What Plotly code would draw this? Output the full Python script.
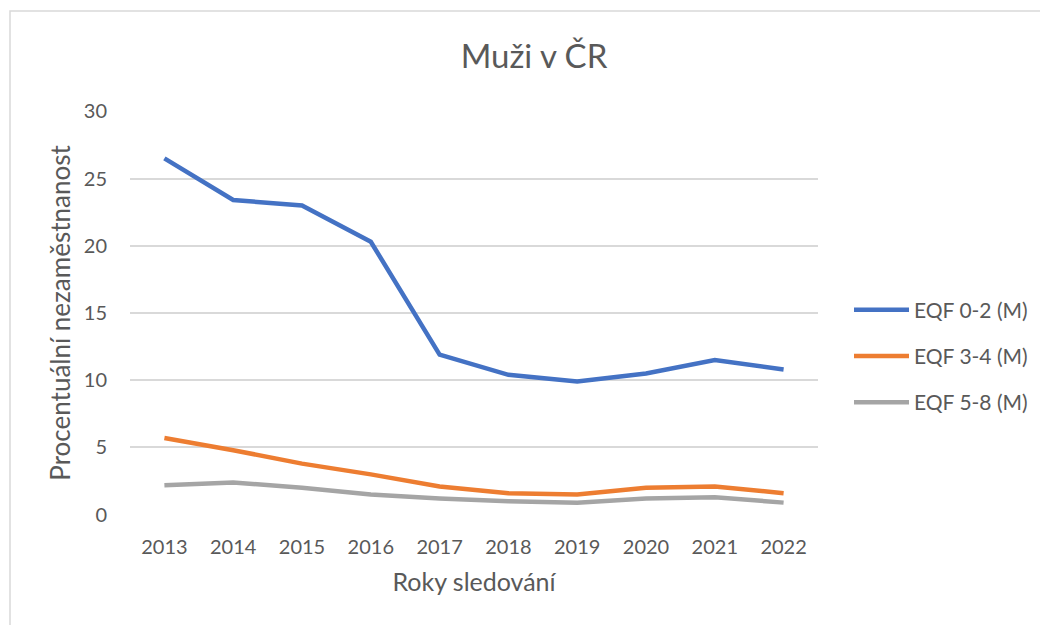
import plotly.graph_objects as go

years = ["2013", "2014", "2015", "2016", "2017", "2018", "2019", "2020", "2021", "2022"]
eqf_0_2 = [26.5, 23.4, 23.0, 20.3, 11.9, 10.4, 9.9, 10.5, 11.5, 10.8]
eqf_3_4 = [5.7, 4.8, 3.8, 3.0, 2.1, 1.6, 1.5, 2.0, 2.1, 1.6]
eqf_5_8 = [2.2, 2.4, 2.0, 1.5, 1.2, 1.0, 0.9, 1.2, 1.3, 0.9]

series_names = ["EQF 0-2 (M)", "EQF 3-4 (M)", "EQF 5-8 (M)"]
colors = ["#4472C4", "#ED7D31", "#A5A5A5"]

# page body has an 8px margin; work in screen pixels and convert
OFF = 8
W, H = 1048, 625
L, T = 130 - OFF, 111 - OFF
pw, ph = 688, 404
R = W - L - pw
B = H - T - ph

def px_x(sx):
    return (sx - OFF - L) / pw

def px_y(sy):
    return (T + ph - (sy - OFF)) / ph

font = "Lato, 'Open Sans', sans-serif"
txt = "#595959"

fig = go.Figure()
for i, (name, vals, c) in enumerate(zip(series_names, [eqf_0_2, eqf_3_4, eqf_5_8], colors)):
    fig.add_trace(go.Scatter(x=years, y=vals, name=name, mode="lines", legendgroup=f"g{i}",
                             line=dict(color=c, width=4.5)))

fig.update_layout(
    width=W, height=H,
    margin=dict(l=L, r=R, t=T, b=B, autoexpand=False),
    paper_bgcolor="white", plot_bgcolor="white",
    font=dict(family=font, color=txt, size=20),
    title=dict(text="Muži v ČR", x=(534 - OFF) / W, xanchor="center", xref="container",
               y=1 - (56 - OFF) / H, yanchor="middle", yref="container",
               font=dict(size=33, color=txt, family=font)),
    xaxis=dict(type="category", range=[-0.5, 9.5], showgrid=False, zeroline=False,
               showline=False, ticks="", ticklabelstandoff=18, tickfont=dict(size=20, color=txt),
               title=dict(text="Roky sledování", font=dict(size=25, color=txt), standoff=16)),
    yaxis=dict(range=[-0.02, 30.02], tickvals=[0, 5, 10, 15, 20, 25, 30], showgrid=True,
               gridcolor="#D9D9D9", gridwidth=1.5,
               zeroline=False, showline=False, ticks="", ticklabelstandoff=22,
               tickfont=dict(size=20, color=txt),
               title=dict(text="Procentuální nezaměstnanost", font=dict(size=26, color=txt), standoff=5)),
    legend=dict(x=px_x(849), xanchor="left", y=px_y(356), yanchor="middle",
                font=dict(size=21, color=txt), itemwidth=55, tracegroupgap=16,
                bgcolor="rgba(0,0,0,0)"),
    showlegend=True,
)

fig.add_shape(type="rect", xref="paper", yref="paper",
              x0=px_x(10), x1=px_x(W + 20), y0=px_y(H + 20), y1=px_y(11),
              line=dict(color="#D9D9D9", width=1.5), layer="below")

fig.write_html("out.html")
